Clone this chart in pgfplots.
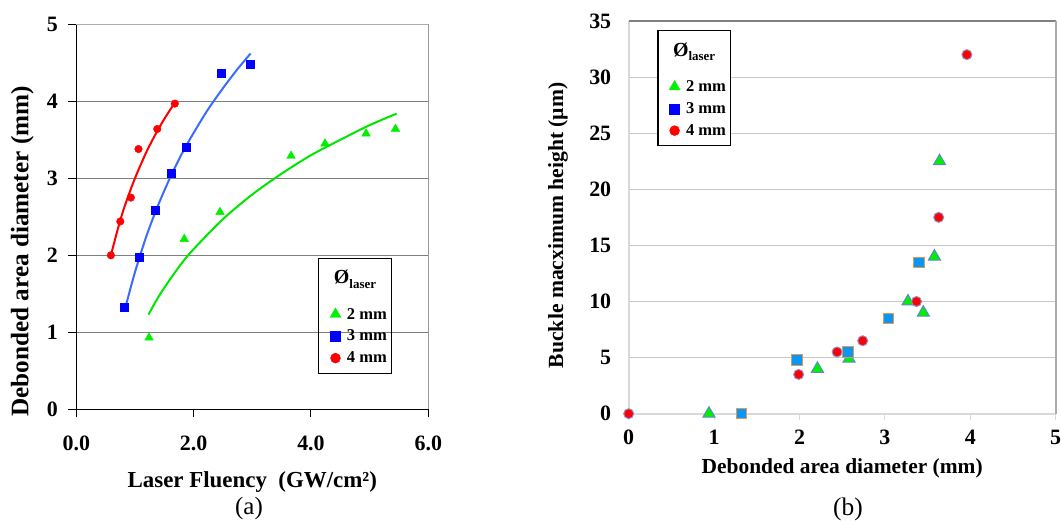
\documentclass[border=0pt]{standalone}
\usepackage{fontspec}
\setmainfont{Liberation Serif}
\usepackage{pgfplots}
\usepackage{pgfplotstable}
\pgfplotsset{compat=1.18}

\definecolor{redpt}{HTML}{FF0000}
\definecolor{bluept}{HTML}{0000FF}
\definecolor{greenpt}{HTML}{00F000}
\definecolor{blueline}{HTML}{3A6BFF}
\definecolor{greenline}{HTML}{00E600}
\definecolor{gridA}{HTML}{808080}
\definecolor{gridB}{HTML}{C8C8C8}
\definecolor{axisB}{HTML}{D9D9D9}
\definecolor{sqfill}{HTML}{0A96F5}
\definecolor{sqdraw}{HTML}{E09A55}
\definecolor{cdraw}{HTML}{9090D0}
\definecolor{tdraw}{HTML}{5A8AC8}

\newcommand{\tickfont}{\bfseries\fontsize{22}{22}\selectfont}
\newcommand{\legfont}{\bfseries\fontsize{16.6}{17}\selectfont}
\newcommand{\legtitle}{\parbox[b][30bp][t]{30bp}{\vspace*{3bp}\hspace*{-9bp}\fontsize{20}{20}\selectfont Ø\raisebox{-0.22em}{\fontsize{13}{13}\selectfont laser}}}
\newcommand{\legtext}[1]{\hspace{4bp}#1\hspace*{-6bp}}

% (a) debonded diameter vs laser fluency
\pgfplotstableread{
x y
1.24 0.93
1.84 2.21
2.45 2.56
3.66 3.29
4.24 3.45
4.94 3.58
5.44 3.64
}\fluTwo
\pgfplotstableread{
x y
0.82 1.32
1.08 1.98
1.35 2.58
1.61 3.06
1.88 3.41
2.47 4.37
2.96 4.48
}\fluThree
\pgfplotstableread{
x y
0.59 2.00
0.75 2.44
0.93 2.75
1.06 3.38
1.38 3.64
1.68 3.97
}\fluFour
% trend curves
\pgfplotstableread{
x y
1.23 1.23
1.40 1.46
1.60 1.69
1.80 1.90
2.00 2.08
2.50 2.47
3.00 2.79
3.50 3.06
4.00 3.30
4.50 3.50
5.00 3.69
5.46 3.84
}\fitTwo
\pgfplotstableread{
x y
0.85 1.36
1.00 1.78
1.20 2.26
1.40 2.66
1.60 3.01
1.80 3.32
2.00 3.59
2.25 3.90
2.50 4.17
2.75 4.42
2.97 4.62
}\fitThree
\pgfplotstableread{
x y
0.59 2.00
0.70 2.32
0.80 2.58
0.90 2.80
1.00 3.00
1.10 3.18
1.20 3.35
1.30 3.50
1.40 3.64
1.50 3.77
1.60 3.89
1.68 3.98
}\fitFour

% (b) buckle height vs debonded diameter
\pgfplotstableread{
x y
0.94 0
2.21 4.0
2.58 4.9
3.27 10.0
3.45 9.0
3.58 14.0
3.64 22.5
}\bucTwo
\pgfplotstableread{
x y
1.32 0
1.97 4.8
2.57 5.5
3.04 8.5
3.40 13.5
}\bucThree
\pgfplotstableread{
x y
0.00 0
1.99 3.5
2.44 5.5
2.74 6.5
3.37 10.0
3.63 17.5
3.96 32.0
}\bucFour

\begin{document}
\begin{tikzpicture}
\useasboundingbox (0,0) rectangle (1061bp,522bp);

\begin{axis}[
  at={(76.3bp,112.7bp)}, anchor=south west,
  scale only axis, width=352bp, height=385bp,
  xmin=0, xmax=6, ymin=0, ymax=5,
  xtick={0,2,4,6}, ytick={0,1,2,3,4,5},
  axis x line*=bottom, axis y line*=left,
  axis line style={-, black, line width=1bp},
  tick align=outside, major tick length=8bp,
  tick style={black, line width=1bp},
  ymajorgrids, major grid style={gridA, line width=1.3bp},
  /pgf/number format/assume math mode=true,
  tick label style={font=\tickfont},
  x tick label style={/pgf/number format/.cd, fixed, fixed zerofill, precision=1, /tikz/.cd, yshift=-15bp},
  y tick label style={xshift=-7bp},
  xlabel={Laser Fluency\ \ (GW/cm²)},
  ylabel={Debonded area diameter (mm)},
  xlabel style={font=\bfseries\fontsize{23}{23}\selectfont, at={(axis description cs:0.5,0)}, anchor=center, yshift=-73bp},
  ylabel style={font=\bfseries\fontsize{25.3}{25}\selectfont, at={(axis description cs:-0.1534,0.41)}, anchor=center},
  clip=false,
  legend style={at={(axis description cs:0.6875,0.394)}, anchor=north west,
    draw=black, line width=1bp, fill=none, font=\legfont, row sep=5.5bp,
    inner xsep=8.2bp, inner ysep=7bp},
  legend cell align=left,
]
\addlegendimage{empty legend}
\addlegendentry{\legtitle}
\addlegendimage{only marks, mark=triangle*, mark size=6.3bp, greenpt, line width=0.4pt}
\addlegendentry{\legtext{2 mm}}
\addlegendimage{only marks, mark=square*, mark size=5bp, bluept, line width=0.4pt}
\addlegendentry{\legtext{3 mm}}
\addlegendimage{only marks, mark=*, mark size=5bp, redpt, line width=0.4pt}
\addlegendentry{\legtext{4 mm}}

\addplot[greenline, line width=2bp, smooth, forget plot] table {\fitTwo};
\addplot[blueline, line width=2bp, smooth, forget plot] table {\fitThree};
\addplot[redpt, line width=2bp, smooth, forget plot] table {\fitFour};
\addplot[only marks, mark=triangle*, mark size=5bp, greenpt, forget plot] table {\fluTwo};
\addplot[only marks, mark=square*, mark size=4bp, bluept, forget plot] table {\fluThree};
\addplot[only marks, mark=*, mark size=3.8bp, redpt, forget plot] table {\fluFour};

\draw[gray!65, line width=1.3bp] (rel axis cs:0,1) -- (rel axis cs:1,1);
\draw[gray!80, line width=1bp] (rel axis cs:1,0) -- (rel axis cs:1,1);
\end{axis}

\begin{axis}[
  at={(628.7bp,108.3bp)}, anchor=south west,
  scale only axis, width=427bp, height=392.7bp,
  xmin=0, xmax=5, ymin=0, ymax=35,
  xtick={0,1,2,3,4,5}, ytick={0,5,10,15,20,25,30,35},
  axis x line*=bottom, axis y line*=left,
  axis line style={-, axisB, line width=2bp},
  tick align=outside, major tick length=6bp,
  xtick style={axisB, line width=1bp},
  ytick style={draw=none},
  ymajorgrids, major grid style={gridB, line width=1bp},
  /pgf/number format/assume math mode=true,
  tick label style={font=\tickfont},
  x tick label style={yshift=-7bp},
  y tick label style={xshift=-8bp},
  xlabel={Debonded area diameter (mm)},
  ylabel={Buckle macximum height (µm)},
  xlabel style={font=\bfseries\fontsize{21.5}{22}\selectfont, at={(axis description cs:0.5,0)}, anchor=center, yshift=-54.3bp},
  ylabel style={font=\bfseries\fontsize{21.7}{22}\selectfont, at={(axis description cs:-0.1656,0.48)}, anchor=center},
  clip=false,
  legend style={at={(axis description cs:0.067,0.977)}, anchor=north west,
    draw=black, line width=1.2bp, fill=white, font=\legfont, row sep=5.5bp,
    inner xsep=8.2bp, inner ysep=7bp},
  legend cell align=left,
]
\addlegendimage{empty legend}
\addlegendentry{\legtitle}
\addlegendimage{only marks, mark=triangle*, mark size=6.3bp, greenpt, line width=0.4pt}
\addlegendentry{\legtext{2 mm}}
\addlegendimage{only marks, mark=square*, mark size=5bp, bluept, line width=0.4pt}
\addlegendentry{\legtext{3 mm}}
\addlegendimage{only marks, mark=*, mark size=5bp, redpt, line width=0.4pt}
\addlegendentry{\legtext{4 mm}}

\draw[gridA, line width=1.2bp] (rel axis cs:0,1) -- (rel axis cs:1,1);
\draw[gray!65, line width=2bp] (rel axis cs:1,0) -- (rel axis cs:1,1);

\addplot[only marks, mark=triangle*, mark size=7bp, forget plot,
  mark options={fill=greenpt, draw=tdraw, line width=1bp}] table {\bucTwo};
\addplot[only marks, mark=*, mark size=5bp, forget plot,
  mark options={fill=redpt, draw=cdraw, line width=1bp}] table {\bucFour};
\addplot[only marks, mark=square*, mark size=5.2bp, forget plot,
  mark options={fill=sqfill, draw=sqdraw, line width=1bp}] table {\bucThree};
\end{axis}

\node[font=\fontsize{25}{25}\selectfont] at (249bp,13bp) {(a)};
\node[font=\fontsize{25.5}{25}\selectfont] at (848bp,13bp) {(b)};
\end{tikzpicture}
\end{document}
